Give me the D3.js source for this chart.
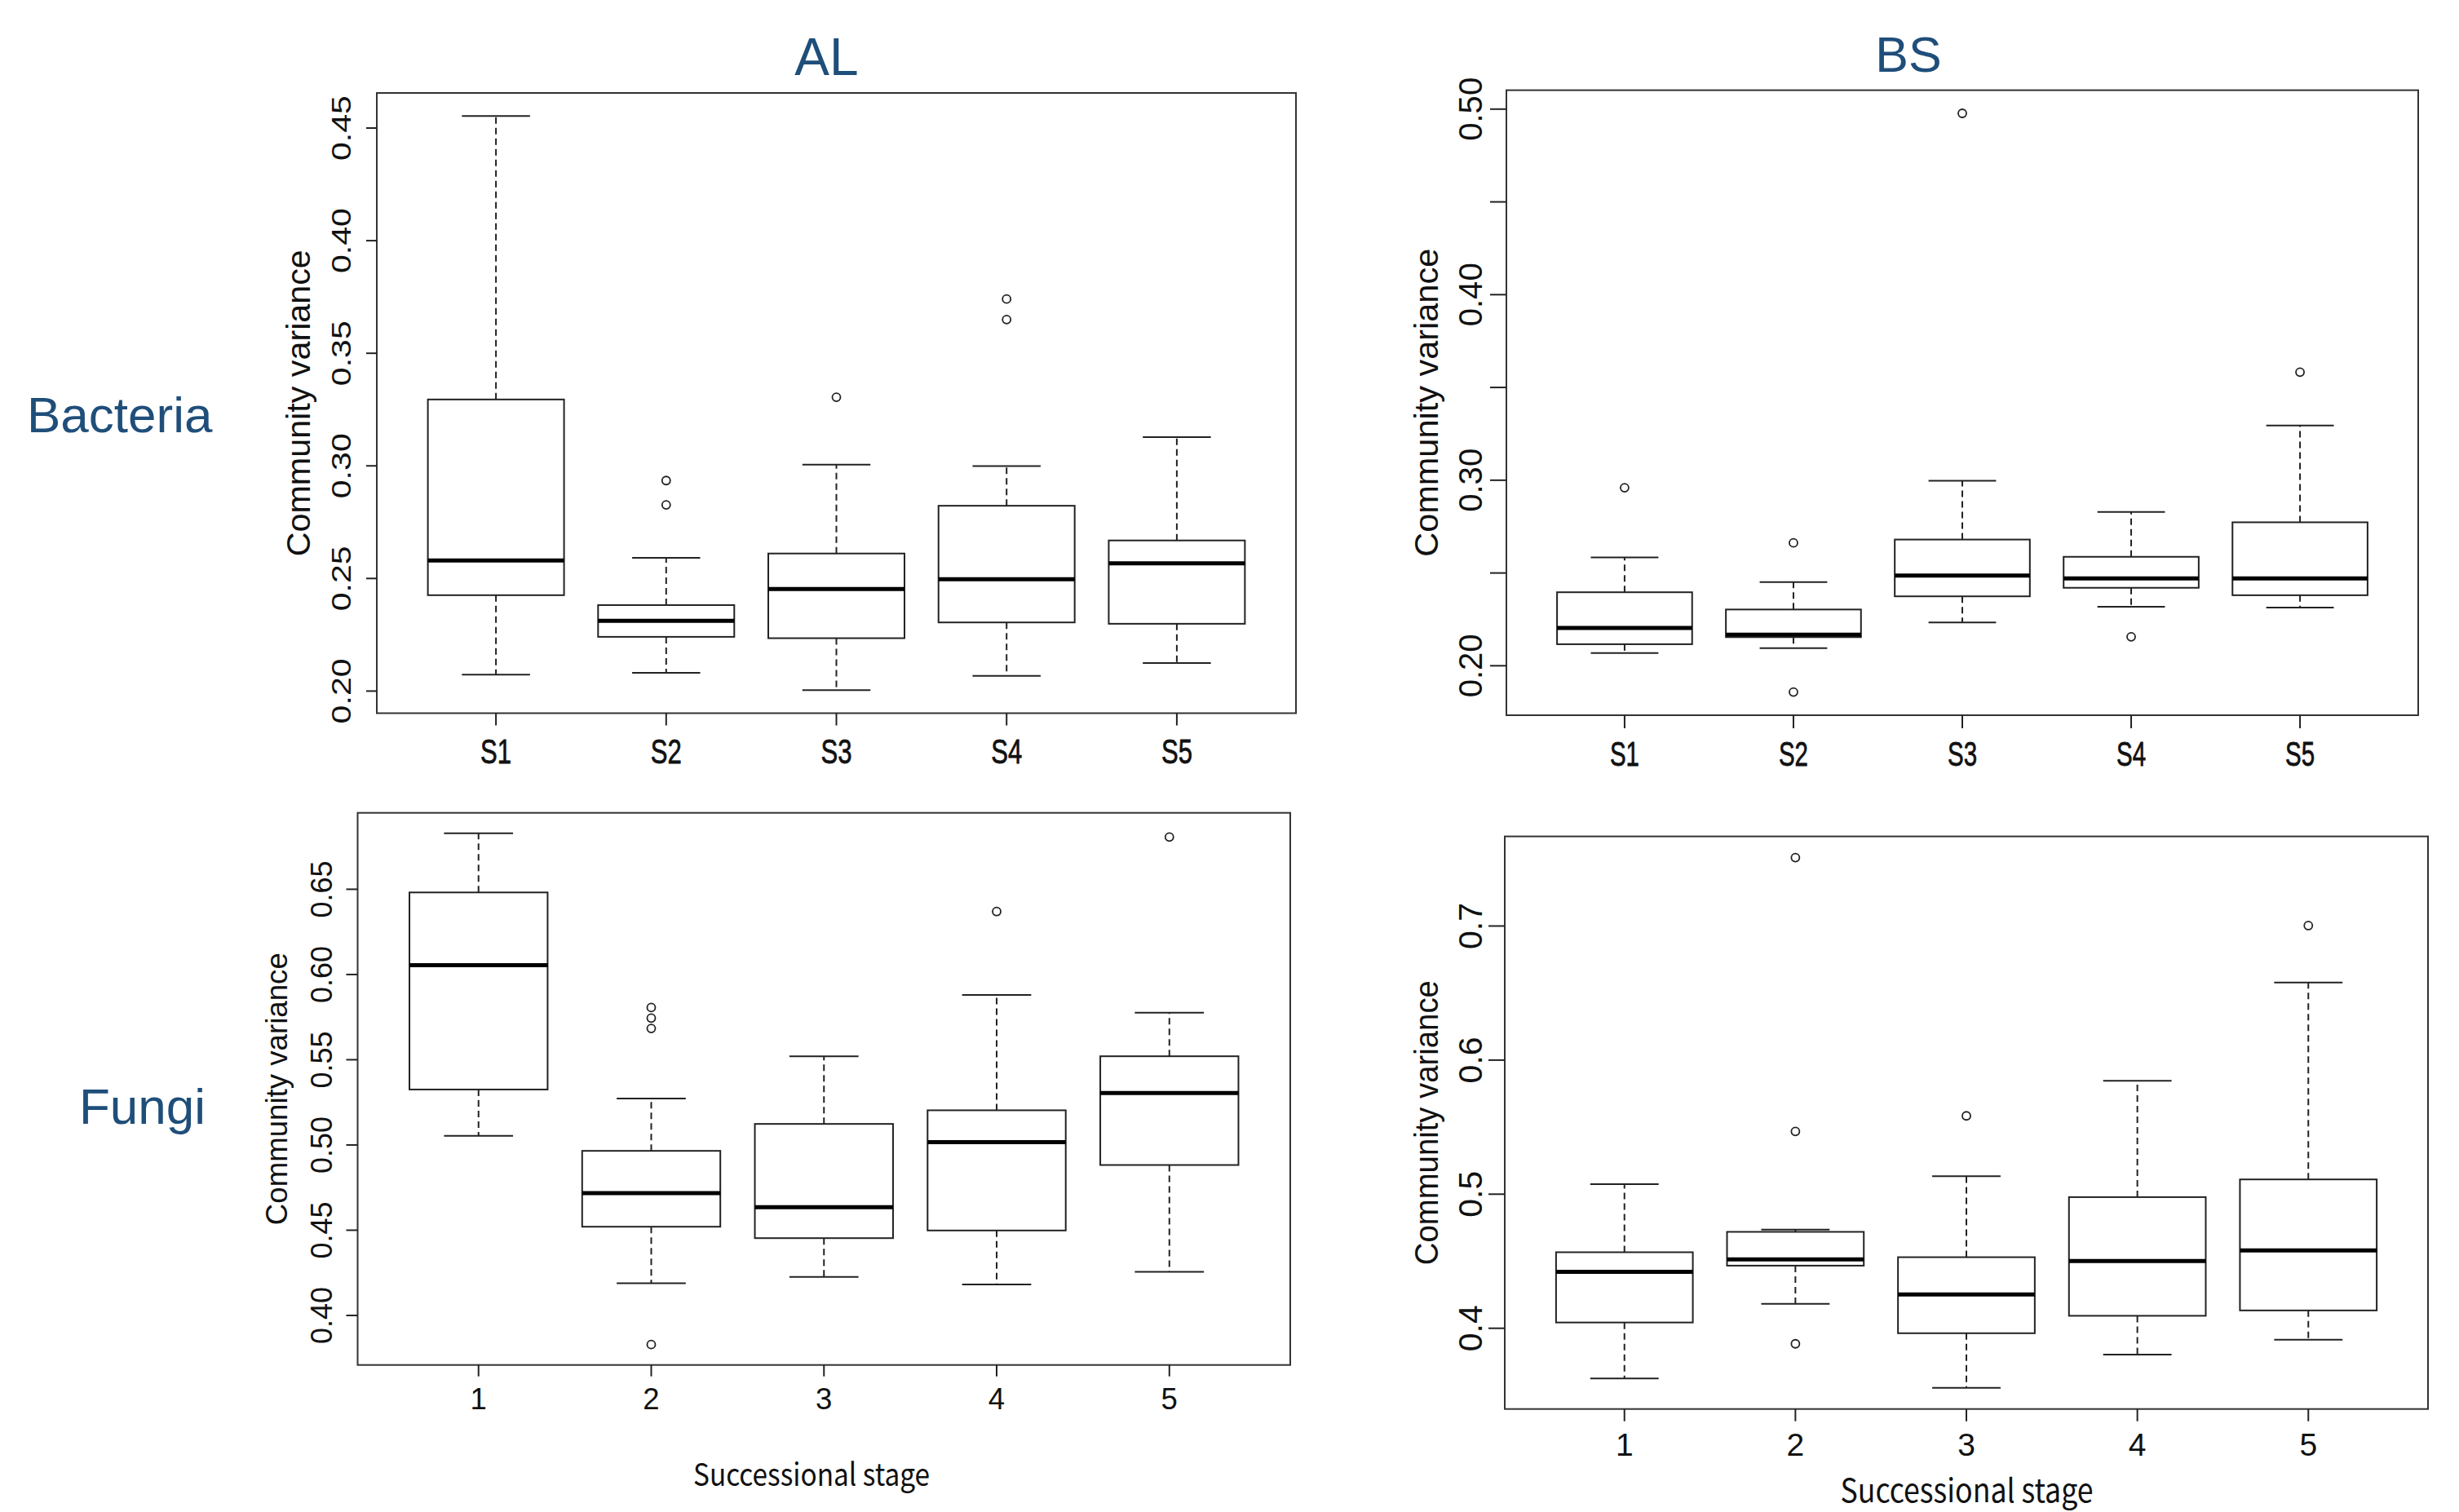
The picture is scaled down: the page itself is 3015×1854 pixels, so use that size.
<!DOCTYPE html>
<html>
<head>
<meta charset="utf-8">
<title>Community variance by successional stage</title>
<script src="https://cdn.jsdelivr.net/npm/d3@7"></script>
<style>
  html, body { margin: 0; padding: 0; background: #fff; }
  svg { display: block; }
</style>
</head>
<body>
<div id="chart"></div>
<script>
// Categories
const bacteriaStages = ['S1', 'S2', 'S3', 'S4', 'S5'];
const fungiStages = ['1', '2', '3', '4', '5'];

// Box statistics per stage: [lower whisker, Q1, median, Q3, upper whisker]
const alBacteriaStats = [
  [0.2071, 0.2424, 0.2578, 0.3293, 0.4552],
  [0.2079, 0.2239, 0.2310, 0.2380, 0.2590],
  [0.2002, 0.2233, 0.2451, 0.2609, 0.3004],
  [0.2066, 0.2303, 0.2495, 0.2821, 0.2997],
  [0.2123, 0.2297, 0.2565, 0.2667, 0.3126]
];
const alBacteriaOutliers = [[], [0.2933, 0.2825], [0.3303], [0.3739, 0.3648], []];

const bsBacteriaStats = [
  [0.2066, 0.2114, 0.2202, 0.2394, 0.2582],
  [0.2093, 0.2152, 0.2165, 0.2301, 0.2449],
  [0.2231, 0.2372, 0.2484, 0.2678, 0.2995],
  [0.2316, 0.2418, 0.2468, 0.2585, 0.2827],
  [0.2311, 0.2378, 0.2468, 0.2771, 0.3293]
];
const bsBacteriaOutliers = [[0.2957], [0.2660, 0.1856], [0.4975], [0.2154], [0.3580]];

const alFungiStats = [
  [0.5051, 0.5323, 0.6052, 0.6479, 0.6826],
  [0.4187, 0.4518, 0.4715, 0.4963, 0.5270],
  [0.4224, 0.4451, 0.4632, 0.5121, 0.5518],
  [0.4179, 0.4496, 0.5014, 0.5201, 0.5878],
  [0.4253, 0.4880, 0.5302, 0.5518, 0.5774]
];
const alFungiOutliers = [[], [0.5804, 0.5742, 0.5681, 0.3827], [], [0.6367], [0.6804]];

const bsFungiStats = [
  [0.3622, 0.4040, 0.4418, 0.4564, 0.5071],
  [0.4179, 0.4464, 0.4511, 0.4716, 0.4733],
  [0.3553, 0.3960, 0.4249, 0.4527, 0.5131],
  [0.3801, 0.4090, 0.4498, 0.4975, 0.5843],
  [0.3911, 0.4130, 0.4577, 0.5107, 0.6576]
];
const bsFungiOutliers = [[], [0.7507, 0.5465, 0.3881], [0.5581], [], [0.7000]];

// Tick values and labels (R drops crowded labels on the BS bacteria axis)
const alBacteriaTicks = [0.20, 0.25, 0.30, 0.35, 0.40, 0.45];
const alBacteriaTickLabels = ['0.20', '0.25', '0.30', '0.35', '0.40', '0.45'];
const bsBacteriaTicks = [0.20, 0.25, 0.30, 0.35, 0.40, 0.45, 0.50];
const bsBacteriaTickLabels = ['0.20', '', '0.30', '', '0.40', '', '0.50'];
const alFungiTicks = [0.40, 0.45, 0.50, 0.55, 0.60, 0.65];
const alFungiTickLabels = ['0.40', '0.45', '0.50', '0.55', '0.60', '0.65'];
const bsFungiTicks = [0.4, 0.5, 0.6, 0.7];
const bsFungiTickLabels = ['0.4', '0.5', '0.6', '0.7'];

const columnTitles = ['AL', 'BS'];
const rowTitles = ['Bacteria', 'Fungi'];
const yTitle = 'Community variance';
const xTitle = 'Successional stage';

(function () {
  'use strict';

  const WIDTH = 3015, HEIGHT = 1854;
  const INK = '#222';
  const TEXT = '#111';
  const BLUE = '#1f4e7a';
  const SANS = '"Liberation Sans", Arial, sans-serif';
  const KOREAN = '"Noto Sans CJK KR", "Noto Sans", sans-serif';

  // Layout of the four panels (each was a separate R plot pasted together)
  const panels = [
    {
      stages: bacteriaStages, stats: alBacteriaStats, outliers: alBacteriaOutliers,
      ticks: alBacteriaTicks, tickLabels: alBacteriaTickLabels,
      left: 462, right: 1589, top: 114, bottom: 874.5,
      yTick: 13, yLab: { size: 33.5, gap: 32, len: 80 },
      yTitle: { size: 41, gap: 82, len: 376 },
      xTick: 15, xLab: { size: 42, gap: 61, len: 38, heavy: true }
    },
    {
      stages: bacteriaStages, stats: bsBacteriaStats, outliers: bsBacteriaOutliers,
      ticks: bsBacteriaTicks, tickLabels: bsBacteriaTickLabels,
      left: 1847, right: 2965, top: 110.6, bottom: 877,
      yTick: 20, yLab: { size: 40.5, gap: 30, len: 78 },
      yTitle: { size: 41, gap: 84, len: 378 },
      xTick: 16, xLab: { size: 42, gap: 62, len: 36, heavy: true }
    },
    {
      stages: fungiStages, stats: alFungiStats, outliers: alFungiOutliers,
      ticks: alFungiTicks, tickLabels: alFungiTickLabels,
      left: 438.5, right: 1582, top: 996.7, bottom: 1673.7,
      yTick: 14, yLab: { size: 37.5, gap: 31.5, len: 70 },
      yTitle: { size: 36.5, gap: 86.5, len: 334 },
      xTick: 14, xLab: { size: 36.5, gap: 54, len: null },
      xTitle: { size: 38, cx: 995, y: 1822, len: 290 }
    },
    {
      stages: fungiStages, stats: bsFungiStats, outliers: bsFungiOutliers,
      ticks: bsFungiTicks, tickLabels: bsFungiTickLabels,
      left: 1845, right: 2977, top: 1025.6, bottom: 1727.7,
      yTick: 20, yLab: { size: 40.5, gap: 28, len: 57 },
      yTitle: { size: 40, gap: 82, len: 349 },
      xTick: 15, xLab: { size: 39, gap: 57, len: null },
      xTitle: { size: 40, cx: 2411.5, y: 1842, len: 310 }
    }
  ];

  const svg = d3.select('#chart')
    .append('svg')
    .attr('width', WIDTH)
    .attr('height', HEIGHT)
    .attr('viewBox', [0, 0, WIDTH, HEIGHT]);

  svg.append('rect').attr('width', WIDTH).attr('height', HEIGHT).attr('fill', '#fff');

  function drawPanel(p) {
    const x = d3.scaleBand()
      .domain(p.stages)
      .range([p.left, p.right])
      .paddingInner(0.2)
      .paddingOuter(0.3);

    // R pads the data range by 4% on each side
    const [lo, hi] = d3.extent(p.stats.flat().concat(p.outliers.flat()));
    const pad = (hi - lo) * 0.04;
    const y = d3.scaleLinear().domain([lo - pad, hi + pad]).range([p.bottom, p.top]);

    const bw = x.bandwidth();
    const cx = s => x(s) + bw / 2;
    const rows = p.stages.map((s, i) => ({ stage: s, st: p.stats[i], out: p.outliers[i] }));

    const g = svg.append('g');
    const box = g.append('g').selectAll('g').data(rows).join('g');

    // dashed whiskers
    box.selectAll('line.whisker')
      .data(d => [[d.stage, d.st[3], d.st[4]], [d.stage, d.st[1], d.st[0]]])
      .join('line')
      .attr('class', 'whisker')
      .attr('x1', d => cx(d[0])).attr('x2', d => cx(d[0]))
      .attr('y1', d => y(d[1])).attr('y2', d => y(d[2]))
      .attr('stroke', INK).attr('stroke-width', 2)
      .attr('stroke-dasharray', '8,5');

    // staples
    box.selectAll('line.cap')
      .data(d => [[d.stage, d.st[0]], [d.stage, d.st[4]]])
      .join('line')
      .attr('class', 'cap')
      .attr('x1', d => cx(d[0]) - bw / 4).attr('x2', d => cx(d[0]) + bw / 4)
      .attr('y1', d => y(d[1])).attr('y2', d => y(d[1]))
      .attr('stroke', INK).attr('stroke-width', 2);

    // box from Q1 to Q3
    box.append('rect')
      .attr('x', d => x(d.stage))
      .attr('width', bw)
      .attr('y', d => y(d.st[3]))
      .attr('height', d => y(d.st[1]) - y(d.st[3]))
      .attr('fill', '#fff')
      .attr('stroke', INK).attr('stroke-width', 2);

    // median
    box.append('line')
      .attr('x1', d => x(d.stage)).attr('x2', d => x(d.stage) + bw)
      .attr('y1', d => y(d.st[2])).attr('y2', d => y(d.st[2]))
      .attr('stroke', '#000').attr('stroke-width', 5);

    // outliers
    box.selectAll('circle')
      .data(d => d.out.map(v => [d.stage, v]))
      .join('circle')
      .attr('cx', d => cx(d[0]))
      .attr('cy', d => y(d[1]))
      .attr('r', 5)
      .attr('fill', 'none')
      .attr('stroke', INK).attr('stroke-width', 1.8);

    // frame
    g.append('rect')
      .attr('x', p.left).attr('y', p.top)
      .attr('width', p.right - p.left).attr('height', p.bottom - p.top)
      .attr('fill', 'none')
      .attr('stroke', '#333').attr('stroke-width', 2);

    // y axis with labels parallel to the axis
    const ya = g.append('g')
      .attr('transform', `translate(${p.left},0)`)
      .call(d3.axisLeft(y)
        .tickValues(p.ticks)
        .tickFormat((d, i) => p.tickLabels[i])
        .tickSize(p.yTick));
    ya.select('.domain').remove();
    ya.selectAll('.tick line').attr('stroke', INK).attr('stroke-width', 2);
    ya.selectAll('.tick text')
      .attr('transform', 'rotate(-90)')
      .attr('x', 0).attr('y', -p.yLab.gap).attr('dy', null)
      .attr('text-anchor', 'middle')
      .attr('font-family', SANS)
      .attr('font-size', p.yLab.size)
      .attr('fill', TEXT)
      .filter(function () { return this.textContent !== ''; })
      .attr('textLength', p.yLab.len)
      .attr('lengthAdjust', 'spacingAndGlyphs');

    // x axis
    const xa = g.append('g')
      .attr('transform', `translate(0,${p.bottom})`)
      .call(d3.axisBottom(x).tickSize(p.xTick));
    xa.select('.domain').remove();
    xa.selectAll('.tick line').attr('stroke', INK).attr('stroke-width', 2);
    const xt = xa.selectAll('.tick text')
      .attr('y', p.xLab.gap).attr('dy', null)
      .attr('font-family', SANS)
      .attr('font-size', p.xLab.size)
      .attr('fill', TEXT);
    if (p.xLab.len) xt.attr('textLength', p.xLab.len).attr('lengthAdjust', 'spacingAndGlyphs');
    if (p.xLab.heavy) xt.attr('stroke', TEXT).attr('stroke-width', 0.8);

    // y title
    const midY = (p.top + p.bottom) / 2;
    g.append('text')
      .attr('transform', `translate(${p.left - p.yTitle.gap},${midY}) rotate(-90)`)
      .attr('text-anchor', 'middle')
      .attr('font-family', SANS)
      .attr('font-size', p.yTitle.size)
      .attr('fill', TEXT)
      .attr('textLength', p.yTitle.len)
      .attr('lengthAdjust', 'spacingAndGlyphs')
      .text(yTitle);

    // x title (fungi row only)
    if (p.xTitle) {
      g.append('text')
        .attr('x', p.xTitle.cx).attr('y', p.xTitle.y)
        .attr('text-anchor', 'middle')
        .attr('font-family', KOREAN)
        .attr('font-size', p.xTitle.size)
        .attr('fill', TEXT)
        .attr('textLength', p.xTitle.len)
        .attr('lengthAdjust', 'spacingAndGlyphs')
        .text(xTitle);
    }
  }

  panels.forEach(drawPanel);

  // column and row headings
  const colPos = [{ x: 1013.5, y: 92, size: 64 }, { x: 2340, y: 88, size: 61 }];
  svg.append('g').selectAll('text')
    .data(columnTitles)
    .join('text')
    .attr('x', (d, i) => colPos[i].x)
    .attr('y', (d, i) => colPos[i].y)
    .attr('text-anchor', 'middle')
    .attr('font-family', SANS)
    .attr('font-size', (d, i) => colPos[i].size)
    .attr('fill', BLUE)
    .text(d => d);

  const rowPos = [{ x: 33, y: 530 }, { x: 97, y: 1378 }];
  svg.append('g').selectAll('text')
    .data(rowTitles)
    .join('text')
    .attr('x', (d, i) => rowPos[i].x)
    .attr('y', (d, i) => rowPos[i].y)
    .attr('font-family', SANS)
    .attr('font-size', 62)
    .attr('fill', BLUE)
    .text(d => d);
})();
</script>
</body>
</html>
